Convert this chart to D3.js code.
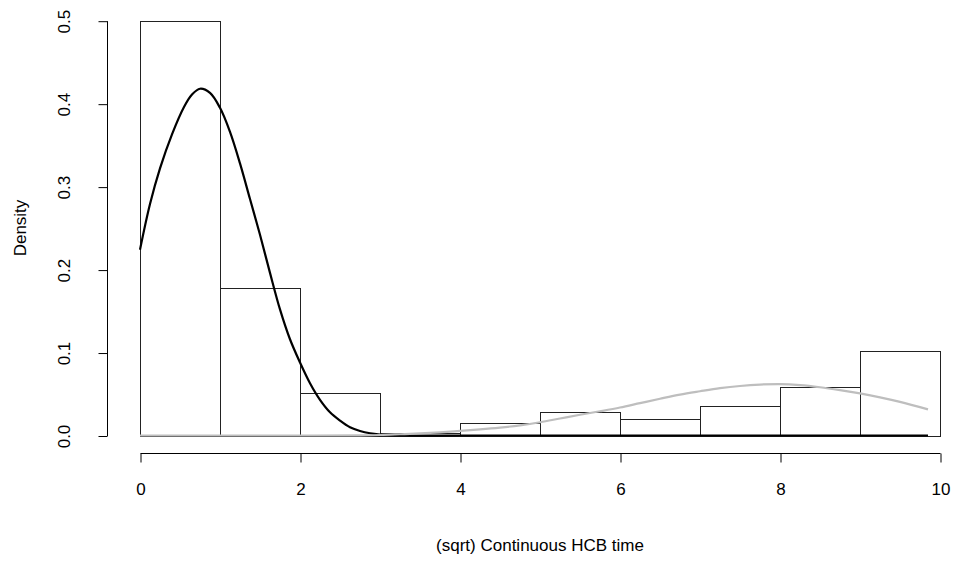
<!DOCTYPE html>
<html>
<head>
<meta charset="utf-8">
<script src="https://cdn.jsdelivr.net/npm/d3@7"></script>
<style>
  html, body { margin: 0; padding: 0; background: #fff; }
  svg { display: block; }
  text { font-family: "Liberation Sans", Arial, sans-serif; fill: #000; }
</style>
</head>
<body>
<svg id="chart" width="954" height="563"></svg>
<script>
// ---- data ----
const binStarts = [0, 1, 2, 3, 4, 5, 6, 7, 8, 9];
const binEnds   = [1, 2, 3, 4, 5, 6, 7, 8, 9, 10];
const densities = [0.5, 0.178, 0.051, 0.0034, 0.0145, 0.0283, 0.0200, 0.0357, 0.0582, 0.102];

const blackX = [0, 0.125, 0.25, 0.4, 0.55, 0.65, 0.75, 0.875, 1.0, 1.125, 1.25, 1.375, 1.5, 1.625, 1.75, 1.875, 2.0, 2.125, 2.25, 2.375, 2.5, 2.625, 2.75, 2.875, 3.0, 3.125, 3.25, 4, 5, 6, 7, 8, 9, 9.85];
const blackY = [0.224, 0.279, 0.322, 0.363, 0.396, 0.411, 0.418, 0.413, 0.395, 0.366, 0.328, 0.285, 0.242, 0.196, 0.152, 0.116, 0.088, 0.063, 0.043, 0.028, 0.018, 0.010, 0.0055, 0.0027, 0.0012, 0.0004, 0, 0, 0, 0, 0, 0, 0, 0];

const grayX = [0, 1, 2, 2.75, 3.0, 3.25, 3.5, 3.75, 4.0, 4.25, 4.5, 4.75, 5.0, 5.25, 5.5, 5.75, 6.0, 6.25, 6.5, 6.75, 7.0, 7.25, 7.5, 7.75, 8.0, 8.25, 8.5, 8.75, 9.0, 9.25, 9.5, 9.85];
const grayY = [0, 0, 0, 0.0002, 0.0006, 0.0015, 0.0025, 0.0038, 0.0055, 0.0073, 0.0095, 0.0123, 0.0160, 0.0205, 0.0250, 0.0292, 0.0337, 0.0390, 0.0443, 0.0493, 0.0533, 0.0570, 0.0597, 0.0614, 0.0620, 0.0608, 0.0582, 0.0547, 0.0507, 0.0460, 0.0405, 0.0315];

const xTicks = [0, 2, 4, 6, 8, 10];
const yTicks = [0.0, 0.1, 0.2, 0.3, 0.4, 0.5];
const xTitle = "(sqrt) Continuous HCB time";
const yTitle = "Density";

// ---- layout ----
const svg = d3.select("#chart");
const x = d3.scaleLinear().domain([0, 10]).range([140, 940]);
const y = d3.scaleLinear().domain([0, 0.5]).range([435.5, 20.7]);
const xAxisY = y(-0.021);
const yAxisX = x(-0.4);
const fs = 17;
const ff = "Liberation Sans, Arial, sans-serif";

svg.append("rect").attr("width", 954).attr("height", 563).attr("fill", "#fff");

// histogram bars
const bins = binStarts.map((s, i) => ({ x0: s, x1: binEnds[i], d: densities[i] }));
svg.append("g").selectAll("rect").data(bins).join("rect")
  .attr("x", d => x(d.x0) + 0.5)
  .attr("y", d => Math.round(y(d.d)) + 0.5)
  .attr("width", d => x(d.x1) - x(d.x0))
  .attr("height", d => Math.round(y(0)) - Math.round(y(d.d)))
  .attr("fill", "none")
  .attr("stroke", "#222")
  .attr("stroke-width", 1);

// density curves
const line = d3.line().x(d => x(d[0])).y(d => Math.min(y(0), y(d[1])))
  .curve(d3.curveCatmullRom.alpha(0.5));
svg.append("path")
  .datum(blackX.map((v, i) => [v, blackY[i]]))
  .attr("d", line).attr("fill", "none").attr("stroke", "#000").attr("stroke-width", 2.2)
  .attr("stroke-linejoin", "round");
svg.append("path")
  .datum(grayX.map((v, i) => [v, grayY[i]]))
  .attr("d", line).attr("fill", "none").attr("stroke", "#bebebe").attr("stroke-width", 2.2)
  .attr("stroke-linejoin", "round");

// x axis
const xAxis = d3.axisBottom(x).tickValues(xTicks).tickSize(9).tickPadding(20)
  .tickFormat(d3.format("d"));
const gx = svg.append("g").attr("transform", `translate(0.5,${Math.round(xAxisY) + 0.5})`).call(xAxis);
gx.select(".domain").attr("d", `M${x(0)},0H${x(10)}`).attr("stroke", "#000");
gx.selectAll(".tick line").attr("stroke", "#000");
gx.selectAll(".tick text").attr("font-size", fs).attr("font-family", ff).attr("fill", "#000");

// y axis
const yAxis = d3.axisLeft(y).tickValues(yTicks).tickSize(9).tickFormat(d3.format(".1f"));
const gy = svg.append("g").attr("transform", `translate(${Math.round(yAxisX) - 0.5},0.5)`).call(yAxis);
gy.select(".domain").attr("d", `M0,${y(0)}V${y(0.5)}`).attr("stroke", "#000");
gy.selectAll(".tick line").attr("stroke", "#000");
gy.selectAll(".tick text")
  .attr("font-size", fs).attr("font-family", ff).attr("fill", "#000")
  .attr("x", null)
  .attr("text-anchor", "middle")
  .attr("transform", `translate(${65 - Math.round(yAxisX)},0) rotate(-90)`)
  .attr("dy", "0.35em");

// titles
svg.append("text").attr("x", 540).attr("y", 545).attr("dy", "0.35em")
  .attr("text-anchor", "middle").attr("font-size", fs).text(xTitle);
svg.append("text").attr("transform", `translate(20,228) rotate(-90)`).attr("dy", "0.35em")
  .attr("text-anchor", "middle").attr("font-size", fs).text(yTitle);
</script>
</body>
</html>
